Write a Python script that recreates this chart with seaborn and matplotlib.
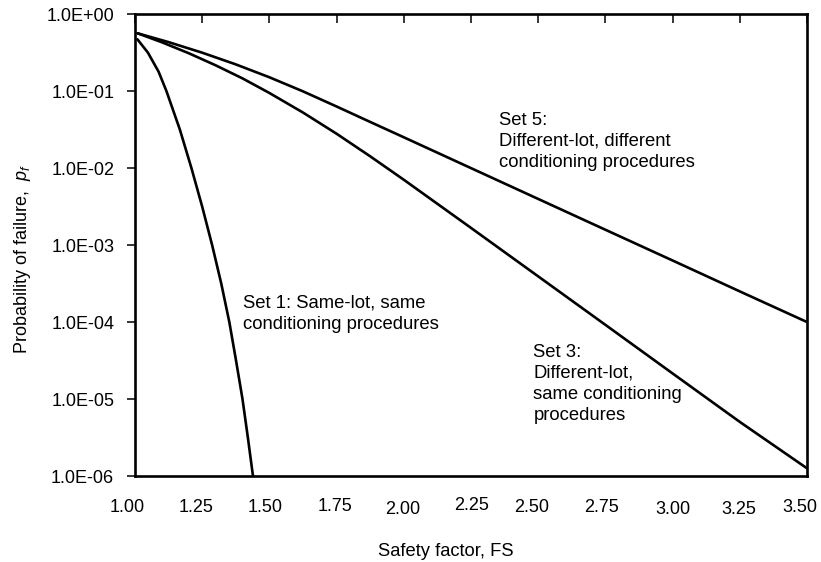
import numpy as np
import pandas as pd
import matplotlib
matplotlib.use("Agg")
import matplotlib.pyplot as plt
from matplotlib.ticker import NullLocator
from matplotlib.transforms import ScaledTranslation
import seaborn as sns

# Probability of failure vs. safety factor for three data sets
fs_set1 = [1.009, 1.048, 1.088, 1.117, 1.167, 1.210, 1.250, 1.287, 1.321, 1.351,
           1.376, 1.400, 1.420, 1.439]
pf_set1 = [0.47, 0.316, 0.178, 0.100, 0.0316, 0.0100, 3.16e-3, 1.0e-3, 3.16e-4, 1.0e-4,
           3.16e-5, 1.0e-5, 3.16e-6, 1.0e-6]

fs_set3 = [1.01, 1.10, 1.20, 1.30, 1.40, 1.50, 1.625, 1.75, 1.875, 2.00,
           2.25, 2.50, 2.75, 3.00, 3.25, 3.50]
pf_set3 = [0.562, 0.430, 0.310, 0.216, 0.146, 0.0944, 0.0526, 0.0279, 0.0142, 0.00705,
           0.00167, 3.92e-4, 9.2e-5, 2.15e-5, 5.05e-6, 1.26e-6]

fs_set5 = [1.01, 1.125, 1.25, 1.375, 1.50, 1.625, 1.75, 1.875, 2.00,
           2.25, 2.50, 2.75, 3.00, 3.25, 3.50]
pf_set5 = [0.562, 0.432, 0.315, 0.222, 0.151, 0.0991, 0.0630, 0.0397, 0.0251,
           0.00998, 0.00397, 0.00158, 6.3e-4, 2.5e-4, 1.0e-4]

x_ticks = [1.00, 1.25, 1.50, 1.75, 2.00, 2.25, 2.50, 2.75, 3.00, 3.25, 3.50]
x_tick_labels = ["1.00", "1.25", "1.50", "1.75", "2.00", "2.25", "2.50", "2.75", "3.00", "3.25", "3.50"]
y_ticks = [1e-6, 1e-5, 1e-4, 1e-3, 1e-2, 1e-1, 1e0]
y_tick_labels = ["1.0E-06", "1.0E-05", "1.0E-04", "1.0E-03", "1.0E-02", "1.0E-01", "1.0E+00"]

set_labels = {
    "Set 1": "Set 1: Same-lot, same\nconditioning procedures",
    "Set 3": "Set 3:\nDifferent-lot,\nsame conditioning\nprocedures",
    "Set 5": "Set 5:\nDifferent-lot, different\nconditioning procedures",
}

df = pd.concat([
    pd.DataFrame({"FS": fs_set1, "pf": pf_set1, "set": "Set 1"}),
    pd.DataFrame({"FS": fs_set3, "pf": pf_set3, "set": "Set 3"}),
    pd.DataFrame({"FS": fs_set5, "pf": pf_set5, "set": "Set 5"}),
], ignore_index=True)

sns.set_style("white")
plt.rcParams["font.family"] = ["Liberation Sans", "DejaVu Sans"]
plt.rcParams["mathtext.fontset"] = "custom"
plt.rcParams["mathtext.it"] = "Liberation Sans:italic"
plt.rcParams["mathtext.rm"] = "Liberation Sans"

fig = plt.figure(figsize=(8.21, 5.62), dpi=100)
ax = fig.add_axes([0.1644, 0.153, 0.8185, 0.822])

sns.lineplot(data=df, x="FS", y="pf", hue="set", units="set", estimator=None,
             palette=["black", "black", "black"], linewidth=1.9, sort=False,
             legend=False, ax=ax)

ax.set_yscale("log")
ax.set_xlim(1.0, 3.5)
ax.set_ylim(1e-6, 1.0)

ax.set_xticks(x_ticks)
ax.set_xticklabels(x_tick_labels)
ax.set_yticks(y_ticks)
ax.set_yticklabels(y_tick_labels)
ax.yaxis.set_minor_locator(NullLocator())
ax.xaxis.set_minor_locator(NullLocator())

ax.tick_params(axis="x", bottom=False, top=True, labelbottom=True, direction="in",
               length=6.5, width=1.1, pad=16.3, labelsize=13, colors="black")
ax.tick_params(axis="y", left=True, right=False, direction="out",
               length=6, width=1.1, pad=9, labelsize=13, colors="black")

# slight hand-set nudges of the x tick labels (pixels: right, down)
label_dx = [-8, -6, -4, -2, -1, 1, -7, -4, 0, -1, -7]
label_dy = [0, 0, 0, -1, 2, -2, 0, 0, 2, 2, 0]
for lbl, dx, dy in zip(ax.get_xticklabels(), label_dx, label_dy):
    lbl.set_transform(lbl.get_transform()
                      + ScaledTranslation(dx / 100, -dy / 100, fig.dpi_scale_trans))

for side in ["left", "right", "top", "bottom"]:
    ax.spines[side].set_visible(True)
    ax.spines[side].set_color("black")
    ax.spines[side].set_linewidth(1.9)

ax.set_xlabel("Safety factor, FS", fontsize=13.2, color="black")
ax.xaxis.set_label_coords(0.463, -0.145)
ax.set_ylabel("Probability of failure,  $\\mathit{p}_{\\mathit{f}}$", fontsize=13, color="black")
ax.yaxis.set_label_coords(-0.152, 0.47)

text_kw = dict(transform=ax.transAxes, ha="left", va="top", fontsize=13.3,
               color="black", linespacing=1.3)
ax.text(0.1607, 0.392, set_labels["Set 1"], **text_kw)
ax.text(0.593, 0.286, set_labels["Set 3"], **text_kw)
ax.text(0.542, 0.788, set_labels["Set 5"], **text_kw)

fig.savefig("out.png", dpi=100)
